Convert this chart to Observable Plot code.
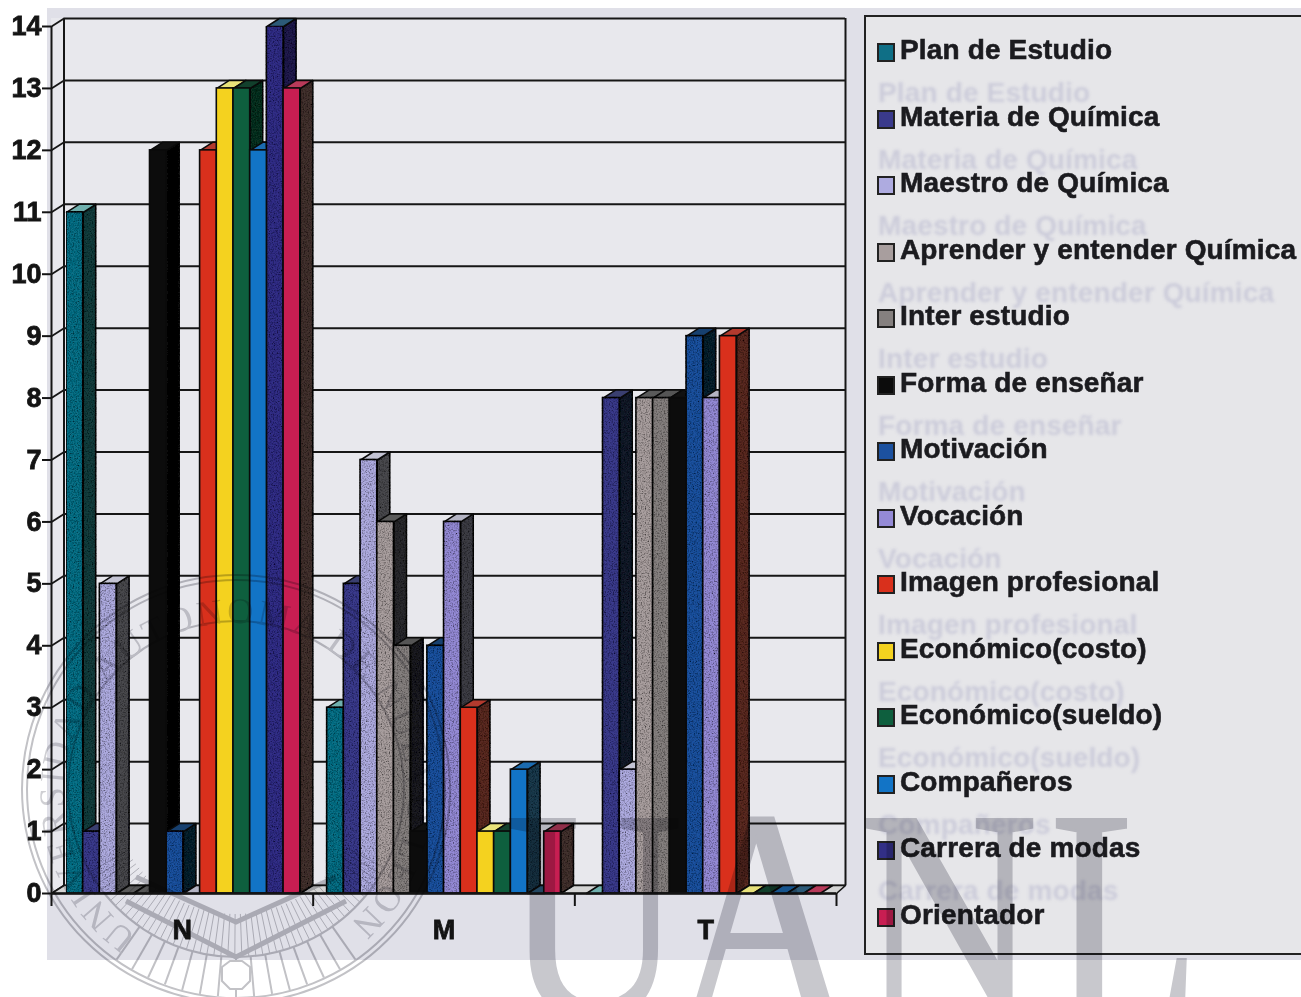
<!DOCTYPE html>
<html lang="es">
<head>
<meta charset="utf-8">
<title>Gráfica</title>
<script src="https://cdn.jsdelivr.net/npm/d3@7"></script>
<script src="https://cdn.jsdelivr.net/npm/@observablehq/plot@0.6"></script>
<style>
html,body{margin:0;padding:0;background:#fff;width:1301px;height:997px;overflow:hidden}
#page{position:relative;width:1301px;height:997px;overflow:hidden;font-family:"Liberation Sans",Arial,sans-serif;filter:blur(.55px)}
#panel{position:absolute;left:47px;top:8px;width:1254px;height:952px;background:#e0e0e8}
#chart{position:absolute;left:0;top:0}
#chart svg{background:transparent;display:block}
#chart text{stroke:#141414;stroke-width:.8px}
.grain{filter:url(#grain)}
#legend{position:absolute;left:864px;top:15px;width:460px;height:936px;border:2px solid #222;background:#e6e6e9;overflow:hidden}
.ghost,.entry{position:absolute;white-space:nowrap;font-weight:bold;font-size:28px;line-height:24px;letter-spacing:.15px}
.entry{color:#1b1b1f;-webkit-text-stroke:.6px #1b1b1f}
.ghost{color:#ccccda;filter:blur(1.4px)}
.sw{position:absolute;width:14px;height:15px;border:2px solid #222;box-sizing:content-box}
#mark{position:absolute;left:0;top:0;mix-blend-mode:multiply;pointer-events:none}
</style>
</head>
<body>
<svg width="0" height="0" style="position:absolute">
  <filter id="grain" x="0" y="0" width="100%" height="100%">
    <feTurbulence type="fractalNoise" baseFrequency="0.75" numOctaves="2" seed="4" result="n"/>
    <feColorMatrix in="n" type="matrix" values="0 0 0 0 0  0 0 0 0 0  0 0 0 0 0  2 0 0 0 -0.85" result="d"/>
    <feComposite in="d" in2="SourceGraphic" operator="in" result="s"/>
    <feMerge><feMergeNode in="SourceGraphic"/><feMergeNode in="s"/></feMerge>
  </filter>
</svg>
<div id="page">
  <div id="panel"></div>
  <div id="chart"></div>
  <div id="legend"></div>
  <svg id="mark" width="1301" height="997"></svg>
</div>
<script>
const categories = ["N", "M", "T"];
const seriesNames = ["Plan de Estudio","Materia de Química","Maestro de Química","Aprender y entender Química","Inter estudio","Forma de enseñar","Motivación","Vocación","Imagen profesional","Económico(costo)","Económico(sueldo)","Compañeros","Carrera de modas","Orientador"];
const valuesN = [11,1,5,0,0,12,1,0,12,13,13,12,14,13];
const valuesM = [3,5,7,6,4,1,4,6,3,1,1,2,0,1];
const valuesT = [0,8,2,8,8,8,9,8,9,0,0,0,0,0];
const frontColors = ["#0f6f86","#3a3a8c","#aeabe0","#a89e9e","#85807f","#0c0c0c","#1c519f","#948ad6","#d9301c","#f4d21f","#0e5f3e","#1274c6","#322f86","#c81e52"];
const sideColors  = ["#183c3c","#141c2c","#48484e","#2c2c2e","#1e1e20","#060606","#10202e","#3d3d44","#5a2a22","#12291c","#113322","#1d3a4e","#211f4e","#43302f"];
const topColors   = ["#6fb0ae","#3a3f70","#c4c4d4","#5a5a5a","#555","#111","#17406f","#b4b4c4","#b33a2e","#e8e27a","#12402c","#1b6bb0","#2c5a78","#b83a5a"];
const grainySeries = [0, 1, 2, 3, 4, 6, 7, 12];
const yTicks = d3.range(0, 15);
const xTicks = [0, 1, 2, 3];
const catTicks = [0.5, 1.5, 2.5];

const pxX = 785 / 3, pxY = 867 / 14;
const depthX = 12.5 / pxX, depthY = 8 / pxY, depthRight = 9 / pxX;
const barW = 16.7 / pxX;
const groupGap = [15 / pxX, 14 / pxX, 11.5 / pxX];

const table = [valuesN, valuesM, valuesT].flatMap((vals, c) => vals.map((v, i) => ({
  cat: c, i, v, name: seriesNames[i],
  x1: c + groupGap[c] + i * barW, x2: c + groupGap[c] + (i + 1) * barW,
  front: frontColors[i], side: sideColors[i], top: topColors[i]
})));
const sidePts = table.filter(d => d.v > 0).flatMap(d => [
  [d.x2, 0], [d.x2 + depthX, depthY], [d.x2 + depthX, d.v + depthY], [d.x2, d.v], [d.x2, 0]
].map(([x, y]) => ({id: d.cat + "-" + d.i, x, y, c: d.side})));
const topPts = table.flatMap(d => [
  [d.x1, d.v], [d.x1 + depthX, d.v + depthY], [d.x2 + depthX, d.v + depthY], [d.x2, d.v], [d.x1, d.v]
].map(([x, y]) => ({id: d.cat + "-" + d.i, x, y, c: d.top})));
const floorPts = [[0, 0], [depthX, depthY], [3 + depthRight, depthY], [3, 0], [0, 0]].map(([x, y]) => ({x, y}));
const wallRows = [{x1: 0, x2: depthX, y1: 0, y2: 14 + depthY}, {x1: depthX, x2: 3 + depthRight, y1: depthY, y2: 14 + depthY}];
const shown = table.filter(d => d.v > 0);
const isGrainy = d => grainySeries.includes(d.i);

const plot = Plot.plot({
  width: 1301, height: 997,
  marginLeft: 51, marginRight: 465, marginTop: 26, marginBottom: 104,
  style: {background: "transparent", fontFamily: "Liberation Sans", color: "#141414", overflow: "visible"},
  x: {domain: [0, 3], axis: null},
  y: {domain: [0, 14], axis: null},
  marks: [
    Plot.rect(wallRows, {x1: "x1", x2: "x2", y1: "y1", y2: "y2", fill: "#e8e8ed"}),
    Plot.ruleY(yTicks, {x1: depthX, x2: 3 + depthRight, dy: -8, stroke: "#161616", strokeWidth: 2}),
    Plot.link(yTicks, {x1: 0, y1: d => d, x2: depthX, y2: d => d + depthY, stroke: "#161616", strokeWidth: 1.8}),
    Plot.ruleX([0], {y1: 0, y2: 14, stroke: "#161616", strokeWidth: 2}),
    Plot.ruleX([depthX], {y1: depthY, y2: 14 + depthY, stroke: "#161616", strokeWidth: 2}),
    Plot.ruleX([3 + depthRight], {y1: depthY, y2: 14 + depthY, stroke: "#161616", strokeWidth: 2}),
    Plot.line(floorPts, {x: "x", y: "y", fill: "#d4d4d4", stroke: "#161616", strokeWidth: 1.6}),
    Plot.line(sidePts, {x: "x", y: "y", z: "id", fill: "c", stroke: "#0a0a0a", strokeWidth: 1.5, className: "grain"}),
    Plot.line(topPts, {x: "x", y: "y", z: "id", fill: "c", stroke: "#0a0a0a", strokeWidth: 1.5}),
    Plot.rect(shown.filter(isGrainy), {x1: "x1", x2: "x2", y1: 0, y2: "v", fill: "front", stroke: "#0a0a0a", strokeWidth: 1.6, title: "name", className: "grain"}),
    Plot.rect(shown.filter(d => !isGrainy(d)), {x1: "x1", x2: "x2", y1: 0, y2: "v", fill: "front", stroke: "#0a0a0a", strokeWidth: 1.6, title: "name"}),
    Plot.ruleY([0], {stroke: "#141414", strokeWidth: 2.4}),
    Plot.axisY({ticks: yTicks, tickSize: 9, tickPadding: 1, strokeWidth: 2, fontSize: 27, fontWeight: "bold", label: null, tickFormat: d => d}),
    Plot.axisX({ticks: xTicks, tickSize: 13, tickFormat: () => "", strokeWidth: 2, label: null}),
    Plot.axisX({ticks: catTicks, tickSize: 0, tickPadding: 26, fontSize: 27, fontWeight: "bold", label: null, tickFormat: d => categories[Math.floor(d)]})
  ]
});
document.getElementById("chart").append(plot);

const legend = document.getElementById("legend");
const boxLeft = 866, boxTop = 17;
seriesNames.slice(0, -1).forEach((n, i) => {
  const cy = 50 + i * 66.5;
  const g = document.createElement("div");
  g.className = "ghost"; g.textContent = n;
  g.style.left = (878 - boxLeft) + "px"; g.style.top = (cy + 43 - 12 - boxTop) + "px";
  legend.append(g);
});
seriesNames.forEach((n, i) => {
  const cy = 50 + i * 66.5;
  const s = document.createElement("div");
  s.className = "sw"; s.style.background = frontColors[i];
  s.style.left = (877 - boxLeft) + "px"; s.style.top = (cy - 7 - boxTop) + "px";
  const t = document.createElement("div");
  t.className = "entry"; t.textContent = n;
  t.style.left = (900 - boxLeft) + "px"; t.style.top = (cy - 12 - boxTop) + "px";
  legend.append(s, t);
});

// University watermark printed over the scan
const wm = d3.select("#mark");
const sx = 0.82;
wm.append("g").attr("transform", `scale(${sx},1)`).append("text")
  .attr("x", [505, 675, 860, 1050].map(v => v / sx).join(" ")).attr("y", 1016)
  .attr("font-family", "Liberation Serif").attr("font-size", 300)
  .attr("fill", "#c8c8cd").attr("stroke", "#c8c8cd").attr("stroke-width", 3).text("UANL");
const seal = wm.append("g").attr("transform", "translate(236,789)").attr("fill", "none").attr("stroke", "#c2c2c6").attr("stroke-width", 2);
[214, 209, 168].forEach(r => seal.append("circle").attr("r", r));
d3.range(28, 152, 2.4).forEach(a => {
  const t = a * Math.PI / 180;
  seal.append("line").attr("x1", 125 * Math.cos(t)).attr("y1", 125 * Math.sin(t)).attr("x2", 168 * Math.cos(t)).attr("y2", 168 * Math.sin(t)).attr("stroke-width", 1);
});
d3.range(55, 126, 5).forEach(a => {
  const t = a * Math.PI / 180;
  seal.append("line").attr("x1", 168 * Math.cos(t)).attr("y1", 168 * Math.sin(t)).attr("x2", 208 * Math.cos(t)).attr("y2", 208 * Math.sin(t));
});
seal.append("polyline").attr("points", "-110,112 0,168 110,112").attr("stroke-width", 5);
seal.append("polyline").attr("points", "-100,88 0,133 100,88").attr("stroke-width", 5);
seal.append("polygon").attr("points", "-14,178 -6,172 6,172 14,178 14,192 6,200 -6,200 -14,192").attr("fill", "#fff");
wm.append("defs").append("path").attr("id", "arc").attr("d", "M 137.3 935.9 A 172 172 0 1 1 334.7 935.9");
wm.append("text").attr("font-family", "Liberation Serif").attr("font-size", 36).attr("fill", "#cfcfd3")
  .append("textPath").attr("href", "#arc").attr("textLength", 850).text("UNIVERSIDAD AUTONOMA DE NUEVO LEON");
</script>
</body>
</html>
